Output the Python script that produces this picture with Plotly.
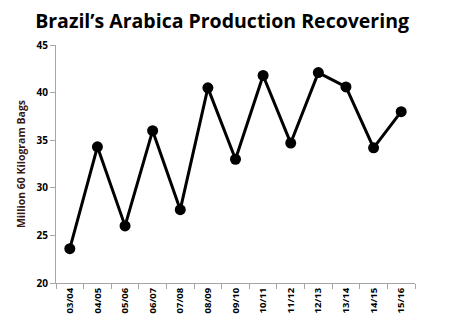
import plotly.graph_objects as go

seasons = ["03/04", "04/05", "05/06", "06/07", "07/08", "08/09", "09/10",
           "10/11", "11/12", "12/13", "13/14", "14/15", "15/16"]
production = [23.6, 34.3, 26.0, 36.0, 27.7, 40.5, 33.0, 41.8, 34.7, 42.1, 40.6, 34.2, 38.0]
y_ticks = [20, 25, 30, 35, 40, 45]

font_family = "Open Sans, Liberation Sans, sans-serif"

fig = go.Figure(go.Scatter(
    x=seasons, y=production, mode="lines+markers",
    line=dict(color="black", width=3),
    marker=dict(color="black", size=11),
    cliponaxis=False,
))

fig.update_layout(
    width=456, height=325,
    margin=dict(l=56, r=41, t=45, b=42),
    paper_bgcolor="white", plot_bgcolor="white",
    showlegend=False,
    title=dict(text="<b>Brazil’s Arabica Production Recovering</b>",
               x=0.487, xanchor="center", y=0.935, yanchor="middle",
               font=dict(family=font_family, size=19.5, color="black")),
    font=dict(family=font_family, color="black"),
)

fig.update_xaxes(
    type="category", tickangle=-90, automargin=False,
    range=[-0.5, len(seasons) - 0.5],
    tickfont=dict(size=9.5, color="black", family=font_family),
    showline=True, linecolor="#a6a6a6", linewidth=1,
    ticks="outside", ticklen=5, tickcolor="#a6a6a6", tickson="boundaries",
    showgrid=False, zeroline=False,
    tickprefix="<b>", ticksuffix="</b>",
)

fig.update_yaxes(
    range=[20, 45], tickvals=y_ticks, automargin=False,
    ticktext=[f"<b>{v}</b>" for v in y_ticks],
    tickfont=dict(size=10, color="black", family=font_family),
    showline=True, linecolor="#a6a6a6", linewidth=1,
    ticks="outside", ticklen=5, tickcolor="#a6a6a6",
    showgrid=False, zeroline=False,
    title=dict(text="<b>Million 60 Kilogram Bags</b>", standoff=8,
               font=dict(size=10.5, color="#3b1a0f", family=font_family)),
)

fig.write_html("out.html")
